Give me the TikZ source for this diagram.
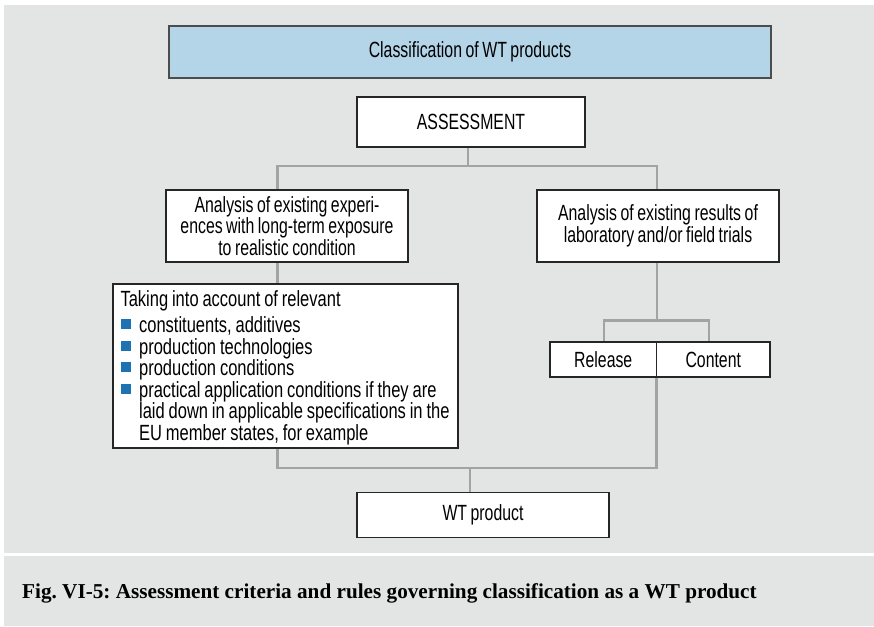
\documentclass[tikz,border=0pt]{standalone}
\usepackage{fontspec}
\setmainfont{Liberation Sans}[FakeStretch=0.72, WordSpace=0.8]
\newfontfamily\listfont{Liberation Sans}[FakeStretch=0.75, WordSpace=0.85]
\newfontfamily\capfont{Liberation Serif}
\usetikzlibrary{positioning,backgrounds}
\definecolor{panel}{HTML}{E3E4E4}
\definecolor{titleblue}{HTML}{B4D4E8}
\definecolor{bulblue}{HTML}{1F72B2}
\definecolor{linkgray}{HTML}{A2A3A3}
\newcommand{\bul}{\makebox[18.6pt][l]{\textcolor{bulblue}{\rule[3.5pt]{10pt}{10pt}}}}
\newcommand{\ind}{\hspace*{18.6pt}}

\begin{document}
\begin{tikzpicture}[x=1pt, y=-1pt,
	box/.style={draw=black!85, line width=1.3pt, fill=white, inner sep=0pt, outer sep=0pt,
		align=center, font=\fontsize{22}{21.5}\selectfont},
	link/.style={draw=linkgray, line width=2.6pt}]
		\useasboundingbox (0,0) rectangle (874,626);
		\node (title) [box, fill=titleblue, draw=black!70, line width=1.5pt, minimum width=602pt, minimum height=52pt] at (470,52) {Classification of WT products};
		\node (assess) [box, minimum width=228pt, minimum height=50pt] at (471,122) {ASSESSMENT};
		\node (exper) [box, minimum width=242pt, minimum height=72pt] at (287,226) {Analysis of existing experi-\\ences with long-term exposure\\to realistic condition};
		\node (trials) [box, minimum width=242pt, minimum height=72pt] at (658,226) {Analysis of existing results of\\laboratory and/or field trials};
		\node (take) [box, inner xsep=7.5pt, minimum width=345pt, minimum height=164pt] at (285.5,366) {\begin{minipage}{330pt}\raggedright\listfont
			\vspace*{3pt}Taking into account of relevant\\[5pt]
			\bul constituents, additives\\
			\bul production technologies\\
			\bul production conditions\\
			\bul practical application conditions if they are\\
			\ind laid down in applicable specifications in the\\
			\ind EU member states, for example\end{minipage}};
		\node (rel) [box, minimum width=106.5pt, minimum height=35pt] at (603.25,359.5) {Release};
		\node (cont) [box, right=0pt of rel, minimum width=113.5pt, minimum height=35pt] {Content};
		\node (wt) [box, minimum width=252pt, minimum height=45pt] at (483,515) {WT product};
		\node (cap) [anchor=base west, inner sep=0pt, font=\capfont\bfseries\frenchspacing\fontsize{21.2}{24}\selectfont] at (22,598.3) {Fig. VI-5: Assessment criteria and rules governing classification as a WT product};
		\coordinate (stemA) at (468,166);
		\coordinate (stemL) at (277.7,166);
		\coordinate (stemR) at (657,166);
		\coordinate (fork) at (657,320.7);
		\coordinate (forkL) at (604,320.7);
		\coordinate (forkR) at (709,320.7);
		\coordinate (joinL) at (277.7,468);
		\coordinate (joinM) at (470,468);
		\begin{scope}[on background layer]
		\fill[panel] (4,5) rectangle (874,553);
		\fill[panel] (4,556) rectangle (874,626);
		\draw[link] (assess.south -| stemA) -- (stemA);
		\draw[link] (exper.north -| stemL) |- (stemR) -- (trials.north -| stemR);
		\draw[link] (exper.south -| stemL) -- (take.north -| stemL);
		\draw[link] (trials.south -| fork) -- (fork);
		\draw[link] (rel.north -| forkL) |- (forkR) -- (cont.north -| forkR);
		\draw[link] (take.south -| joinL) -- (joinL) -| (rel.south east);
		\draw[link] (joinM) -- (wt.north -| joinM);
		\end{scope}
		\end{tikzpicture}
\end{document}
